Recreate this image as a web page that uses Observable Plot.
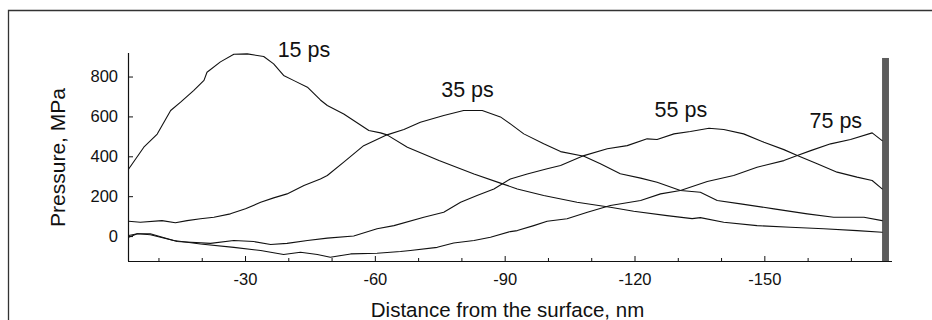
<!DOCTYPE html>
<html><head><meta charset="utf-8">
<script src="https://cdn.jsdelivr.net/npm/d3@7"></script>
<script src="https://cdn.jsdelivr.net/npm/@observablehq/plot@0.6"></script>
<style>
body{margin:0;background:#fff}
#chart svg{display:block}
</style>
</head><body><div id="chart"></div>
<script>
// ---- data (distance from the surface, nm ; pressure, MPa) ----
const dist15 = [-3,-6.5,-9.6,-12.7,-15,-18,-20.4,-21.1,-24.2,-27.3,-30.4,-34.2,-36.5,-38.8,-41.2,-44.3,-47.3,-48.9,-52.7,-58.5,-61.2,-62.7,-67.4,-74.7,-82.8,-88.9,-92.8,-98.9,-106.6,-114.3,-119.7,-127.4,-133.2,-135.1,-140.5,-148.2,-155.9,-163.6,-171.3,-177.1];
const p15    = [339,448,514,632,674,732,783,824,876,914,916,903,866,808,782,749,685,657,615,532,520,510,448,381,314,268,239,206,172,147,127,105,90,95,72,55,47,39,30,22];

const dist35 = [-3,-5.7,-10.7,-13.8,-16.5,-19.6,-22.7,-26.5,-30,-33.5,-36.5,-39.6,-43.5,-47.3,-48.9,-52.7,-57.3,-62.7,-66.6,-70.4,-75.8,-80.4,-84.7,-88.9,-91.2,-94.3,-98.9,-102.8,-108.2,-112,-116.6,-121.3,-125.1,-130.5,-135.1,-139,-144.4,-152.1,-159.8,-165.9,-172.9,-177.1];
const p35    = [77,72,80,69,80,89,97,114,139,172,194,214,256,289,306,373,456,510,537,573,607,632,632,600,565,515,465,426,403,365,315,293,272,231,222,181,164,139,114,97,97,80];

const dist55 = [-3,-5,-8,-14.2,-21.9,-27.3,-31.9,-35.8,-39.6,-44.3,-48.9,-55,-60.4,-64.3,-71.2,-75.8,-79.7,-83.5,-87.4,-91.2,-95.1,-99.7,-102.8,-108.2,-113.6,-118.2,-122.8,-125.1,-129,-132.8,-137.1,-140.5,-145.1,-149.8,-154.4,-157.5,-162.1,-166.7,-171.3,-174.8,-177.1];
const p55    = [5,14,14,-25,-34,-20,-25,-40,-34,-20,-8,3,39,55,97,122,172,206,239,289,314,340,356,406,440,456,490,487,515,527,543,537,515,473,436,406,365,323,298,281,239];

const dist75 = [-3,-5,-8,-13.4,-19.6,-27.3,-33.5,-38.8,-42.7,-46.6,-49.6,-54.3,-60.4,-65.8,-68.1,-74.3,-78.1,-82.8,-86.6,-91.2,-92.8,-96.6,-99.7,-104.3,-109,-114.3,-121.3,-125.9,-130.5,-136.7,-142.8,-148.2,-154.4,-157.5,-160.6,-165.2,-169.8,-174.8,-177.1];
const p75    = [-3,14,9,-20,-37,-54,-70,-90,-79,-90,-104,-87,-84,-75,-70,-54,-32,-20,-3,25,30,55,77,89,122,156,181,214,231,276,306,348,381,406,431,465,487,520,481];

// curve labels
const labelText = ["15 ps","35 ps","55 ps","75 ps"];
const labelDist = [-43.5,-81.3,-130.6,-166.4];
const labelP    = [899,702,598,545];

// ticks
const xTicks = [-30,-60,-90,-120,-150];
const xMinor = [-10,-20,-40,-50,-70,-80,-100,-110,-130,-140,-160,-170];
const yTicks = [0,200,400,600,800];

// scale domains
const xDomain = [-2.96,-179.5];
const yDomain = [-125,918];

// surface wall (grey bar at the right)
const wallDist = [-177.2,-178.8];
const wallP    = [-125,893];

const series = [
  ["15 ps", dist15, p15],
  ["35 ps", dist35, p35],
  ["55 ps", dist55, p55],
  ["75 ps", dist75, p75]
];
const rows = series.flatMap(([name, xs, ys]) => xs.map((x, i) => ({series: name, x, y: ys[i]})));
const labels = labelText.map((t, i) => ({t, x: labelDist[i], y: labelP[i]}));
const wall = [{x1: wallDist[0], x2: wallDist[1], y1: wallP[0], y2: wallP[1]}];

const W = 932, H = 320, mL = 128, mR = 40, mT = 53, mB = 59;
const innerW = W - mL - mR, innerH = H - mT - mB;
const font = "'Liberation Sans', Arial, Helvetica, sans-serif";

const chart = Plot.plot({
  width: W, height: H,
  marginLeft: mL, marginRight: mR, marginTop: mT, marginBottom: mB,
  style: {fontFamily: font, background: "#fff", color: "#111"},
  x: {domain: xDomain, axis: null},
  y: {domain: yDomain, axis: null},
  marks: [
    Plot.rect(wall, {x1: "x1", x2: "x2", y1: "y1", y2: "y2", fill: "#5c5c5c"}),
    Plot.line(rows, {x: "x", y: "y", z: "series", stroke: "#111", strokeWidth: 1.1}),
    Plot.ruleY([yDomain[0]], {stroke: "#111", strokeWidth: 1.2}),
    Plot.ruleX([xDomain[0]], {stroke: "#111", strokeWidth: 1.2}),
    Plot.tickX(xTicks, {x: d => d, insetTop: innerH - 5, stroke: "#111"}),
    Plot.tickX(xMinor, {x: d => d, insetTop: innerH - 3, stroke: "#111"}),
    Plot.tickY(yTicks, {y: d => d, insetRight: innerW - 5, stroke: "#111"}),
    Plot.axisX(xTicks, {tickSize: 0, tickPadding: 12, fontSize: 16.5, fill: "#111", tickFormat: d => String(d).replace("−","-")}),
    Plot.axisY(yTicks, {tickSize: 0, tickPadding: 10.5, fontSize: 16.5, fill: "#111", tickFormat: d => String(d)}),
    Plot.text(labels, {x: "x", y: "y", text: "t", fontSize: 21.5, textAnchor: "middle", lineAnchor: "bottom", fill: "#111"}),
    Plot.text(["Distance from the surface, nm"], {frameAnchor: "bottom", text: d => d, dy: 55, dx: -3, textAnchor: "middle", lineAnchor: "bottom", fontSize: 20.5, fill: "#111"}),
    Plot.text(["Pressure, MPa"], {frameAnchor: "left", text: d => d, rotate: -90, dx: -70, textAnchor: "middle", lineAnchor: "middle", fontSize: 21, fill: "#111"})
  ]
});

// outer figure frame (top and left edges)
const svg = d3.select(chart);
svg.append("path").attr("d", `M8.5,${H} L8.5,10.5 L${W},10.5`).attr("fill", "none").attr("stroke", "#333").attr("stroke-width", 1.3);

document.getElementById("chart").appendChild(chart);
</script>
</body></html>
